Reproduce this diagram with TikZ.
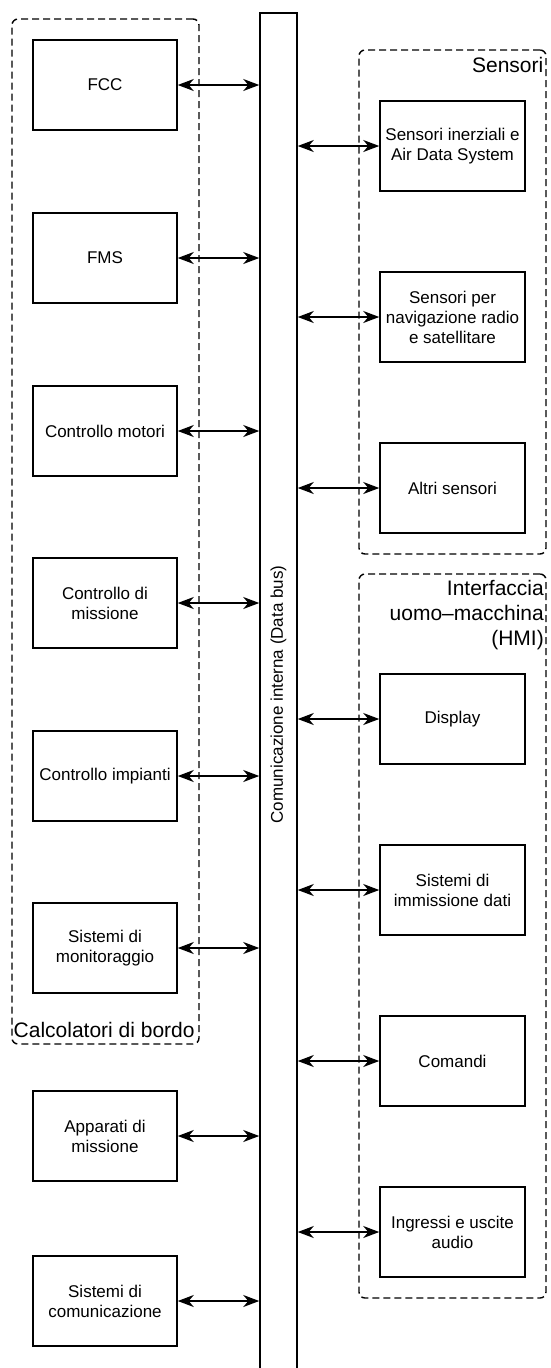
\documentclass[tikz,border=0pt]{standalone}
\usepackage{fontspec}
\setmainfont{Liberation Sans}
\usetikzlibrary{arrows.meta}
\begin{document}
\begin{tikzpicture}[x=1pt,y=-1pt,
  box/.style={draw, line width=1.5pt, minimum width=144pt, minimum height=90pt,
    inner sep=2pt, align=center, font=\fontsize{17}{20}\selectfont},
  group/.style={draw, line width=1.4pt, dash pattern=on 7pt off 4pt,
    rounded corners=6pt, inner sep=0pt, minimum width=187pt},
  glabel/.style={inner sep=0pt, font=\fontsize{21}{25}\selectfont},
  link/.style={line width=1.5pt, {Stealth[length=16pt,width=12pt,inset=5pt]}-{Stealth[length=16pt,width=12pt,inset=5pt]}}
]
\useasboundingbox (0,0) rectangle (550,1368);
\fill[white] (0,0) rectangle (550,1368);
\clip (0,0) rectangle (550,1368);

% groups
\node[group, minimum height=1025pt] (cal) at (105.5,531.5) {};
\node[group, minimum height=504pt] (sens) at (452.5,302) {};
\node[group, minimum height=724pt] (hmi) at (452.5,936) {};
\node[glabel, anchor=base west] (calT) at (13.5,1037) {Calcolatori di bordo};
\node[glabel, anchor=base east] (sensT) at (543.5,72) {Sensori};
\node[glabel, anchor=north east, align=right] (hmiT) at (544,580)
  {Interfaccia\\uomo\textendash macchina\\(HMI)};

% data bus
\node[draw, line width=1.5pt, minimum width=37pt, minimum height=1363pt, inner sep=0pt,
  label={[rotate=90, font=\fontsize{17}{20}\selectfont]center:Comunicazione interna (Data bus)}]
  (bus) at (278.5,694.5) {};

% left column
\node[box] (fcc) at (105,85) {FCC};
\node[box] (fms) at (105,258) {FMS};
\node[box] (mot) at (105,431) {Controllo motori};
\node[box] (mis) at (105,603) {Controllo di\\missione};
\node[box] (imp) at (105,776) {Controllo impianti};
\node[box] (mon) at (105,948) {Sistemi di\\monitoraggio};
\node[box] (app) at (105,1136) {Apparati di\\missione};
\node[box] (com) at (105,1301) {Sistemi di\\comunicazione};

% right column
\node[box, minimum width=145pt] (sin) at (452.5,146) {Sensori inerziali e\\Air Data System};
\node[box, minimum width=145pt] (snav) at (452.5,317) {Sensori per\\navigazione radio\\e satellitare};
\node[box, minimum width=145pt] (salt) at (452.5,488) {Altri sensori};
\node[box, minimum width=145pt] (disp) at (452.5,719) {Display};
\node[box, minimum width=145pt] (imm) at (452.5,890) {Sistemi di\\immissione dati};
\node[box, minimum width=145pt] (cmd) at (452.5,1061) {Comandi};
\node[box, minimum width=145pt] (aud) at (452.5,1232) {Ingressi e uscite\\audio};

% links to the bus
\foreach \n in {fcc,fms,mot,mis,imp,mon,app,com}
  \draw[link] (\n.east) -- (\n.east -| bus.west);
\foreach \n in {sin,snav,salt,disp,imm,cmd,aud}
  \draw[link] (bus.east |- \n.west) -- (\n.west);
\end{tikzpicture}
\end{document}
